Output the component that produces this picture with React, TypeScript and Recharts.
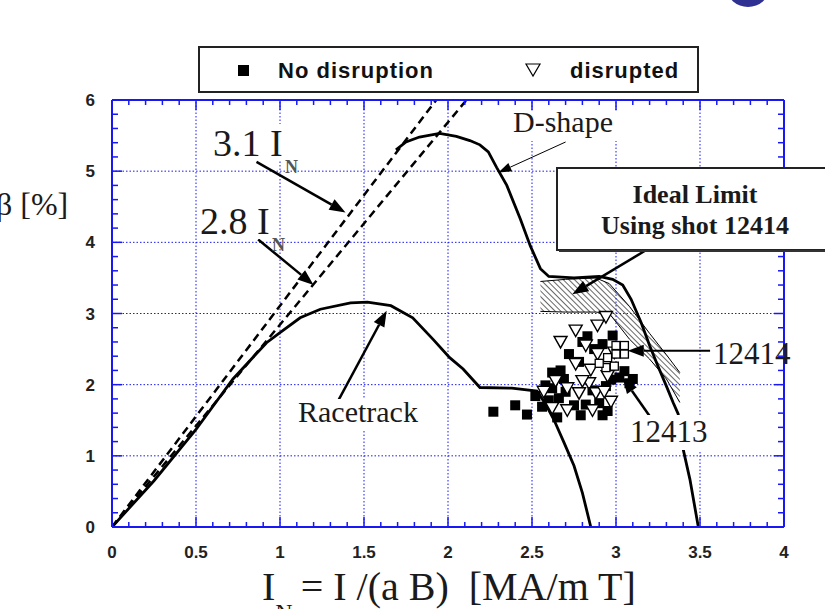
import React from 'react'
import { ComposedChart, XAxis, YAxis, Line, Area, Scatter, ReferenceLine } from 'recharts'

type Pt = { x: number; y: number }

// axis ticks
const xMajor = [0, 0.5, 1, 1.5, 2, 2.5, 3, 3.5, 4]
const xLabels = ['0', '0.5', '1', '1.5', '2', '2.5', '3', '3.5', '4']
const yMajor = [0, 1, 2, 3, 4, 5, 6]
const yLabels = ['0', '1', '2', '3', '4', '5', '6']

// curves
const racetrack: Pt[] = [
    { x: 0, y: 0 }, { x: 0.25, y: 0.65 }, { x: 0.5, y: 1.37 }, { x: 0.72, y: 2.08 }, { x: 0.92, y: 2.59 },
    { x: 1.0, y: 2.73 }, { x: 1.12, y: 2.94 }, { x: 1.24, y: 3.06 }, { x: 1.42, y: 3.15 }, { x: 1.52, y: 3.16 },
    { x: 1.66, y: 3.11 }, { x: 1.79, y: 2.94 }, { x: 1.91, y: 2.64 }, { x: 2.01, y: 2.38 }, { x: 2.09, y: 2.22 },
    { x: 2.19, y: 1.96 }, { x: 2.38, y: 1.95 }, { x: 2.53, y: 1.91 }, { x: 2.58, y: 1.73 }, { x: 2.63, y: 1.51 },
    { x: 2.69, y: 1.19 }, { x: 2.75, y: 0.86 }, { x: 2.8, y: 0.48 }, { x: 2.85, y: 0 },
]

const dShape: Pt[] = [
    { x: 1.69, y: 5.3 }, { x: 1.75, y: 5.41 }, { x: 1.83, y: 5.48 }, { x: 1.95, y: 5.53 }, { x: 2.05, y: 5.49 },
    { x: 2.13, y: 5.43 }, { x: 2.19, y: 5.37 }, { x: 2.24, y: 5.27 }, { x: 2.29, y: 5.05 }, { x: 2.35, y: 4.8 },
    { x: 2.43, y: 4.33 }, { x: 2.49, y: 3.95 }, { x: 2.55, y: 3.63 }, { x: 2.6, y: 3.52 }, { x: 2.75, y: 3.5 },
    { x: 2.9, y: 3.52 }, { x: 2.98, y: 3.48 }, { x: 3.04, y: 3.4 }, { x: 3.09, y: 3.2 }, { x: 3.15, y: 2.87 },
    { x: 3.2, y: 2.55 }, { x: 3.25, y: 2.26 }, { x: 3.3, y: 1.98 }, { x: 3.34, y: 1.75 }, { x: 3.37, y: 1.59 },
    { x: 3.4, y: 1.09 }, { x: 3.44, y: 0.67 }, { x: 3.49, y: 0 },
]

const limit31: Pt[] = [{ x: 0, y: 0 }, { x: 1.93, y: 6 }]
const limit28: Pt[] = [{ x: 0, y: 0 }, { x: 2.11, y: 6 }]

// hatched "ideal limit" band, [low, high]
const idealBand = [
    { x: 2.55, band: [3.03, 3.45] }, { x: 2.7, band: [3.02, 3.48] }, { x: 2.88, band: [3.02, 3.5] },
    { x: 2.96, band: [3.0, 3.42] }, { x: 3.08, band: [2.64, 3.1] }, { x: 3.2, band: [2.36, 2.72] },
    { x: 3.3, band: [2.08, 2.42] }, { x: 3.38, band: [1.75, 2.17] },
]

// shots
const noDisruption: Pt[] = [
    { x: 2.27, y: 1.62 }, { x: 2.4, y: 1.71 }, { x: 2.47, y: 1.58 }, { x: 2.52, y: 1.84 }, { x: 2.58, y: 1.99 },
    { x: 2.56, y: 1.69 }, { x: 2.62, y: 2.17 }, { x: 2.67, y: 2.2 }, { x: 2.66, y: 1.81 }, { x: 2.65, y: 1.54 },
    { x: 2.72, y: 2.43 }, { x: 2.75, y: 1.71 }, { x: 2.79, y: 1.57 }, { x: 2.83, y: 2.68 }, { x: 2.92, y: 2.57 },
    { x: 2.98, y: 2.69 }, { x: 2.9, y: 1.74 }, { x: 2.92, y: 1.57 }, { x: 2.94, y: 1.98 }, { x: 2.97, y: 2.07 },
    { x: 3.05, y: 2.19 }, { x: 3.08, y: 2.02 }, { x: 3.02, y: 2.1 }, { x: 2.78, y: 2.32 }, { x: 2.86, y: 1.92 },
    { x: 2.6, y: 1.78 }, { x: 2.7, y: 1.9 }, { x: 2.69, y: 2.08 }, { x: 2.82, y: 1.72 }, { x: 2.87, y: 2.5 },
    { x: 2.8, y: 2.6 }, { x: 2.62, y: 1.95 }, { x: 2.95, y: 1.63 }, { x: 3.1, y: 2.08 },
]

const disrupted: Pt[] = [
    { x: 2.94, y: 2.95 }, { x: 2.89, y: 2.83 }, { x: 2.76, y: 2.76 }, { x: 2.67, y: 2.6 }, { x: 2.82, y: 2.55 },
    { x: 2.89, y: 2.43 }, { x: 2.76, y: 2.29 }, { x: 2.85, y: 2.21 }, { x: 2.64, y: 2.05 }, { x: 2.57, y: 1.9 },
    { x: 2.71, y: 1.95 }, { x: 2.84, y: 2.02 }, { x: 2.88, y: 1.88 }, { x: 2.78, y: 1.88 }, { x: 2.62, y: 1.67 },
    { x: 2.71, y: 1.64 }, { x: 2.86, y: 1.64 }, { x: 2.97, y: 1.76 }, { x: 2.99, y: 2.45 }, { x: 2.95, y: 2.12 },
    { x: 2.8, y: 2.05 }, { x: 2.93, y: 1.9 },
]

const shot12414: Pt[] = [
    { x: 3.0, y: 2.55 }, { x: 3.05, y: 2.55 }, { x: 3.0, y: 2.43 }, { x: 3.05, y: 2.43 },
    { x: 2.95, y: 2.38 }, { x: 2.94, y: 2.24 }, { x: 2.99, y: 2.26 }, { x: 2.9, y: 2.3 },
]

// annotation arrows (tail -> head)
const arrows = [
    { from: { x: 0.86, y: 5.13 }, to: { x: 1.39, y: 4.42 }, w: 2.5 },
    { from: { x: 0.87, y: 4.04 }, to: { x: 1.2, y: 3.4 }, w: 2.5 },
    { from: { x: 2.7, y: 5.41 }, to: { x: 2.3, y: 4.98 }, w: 1 },
    { from: { x: 3.2, y: 3.92 }, to: { x: 2.74, y: 3.27 }, w: 2.5 },
    { from: { x: 1.345, y: 1.77 }, to: { x: 1.635, y: 3.04 }, w: 2.5 },
    { from: { x: 3.56, y: 2.475 }, to: { x: 3.07, y: 2.475 }, w: 2 },
    { from: { x: 3.2, y: 1.56 }, to: { x: 3.04, y: 2.1 }, w: 2.5 },
]

const BLUE = '#1818f4'
const SANS = '"Liberation Sans", Arial, sans-serif'
const SERIF = '"Liberation Serif", "Times New Roman", serif'

const subdivide = (major: number[], n: number) => {
    const out: number[] = []
    for (let i = 0; i < major.length - 1; i++)
        for (let k = 0; k < n; k++) out.push(+(major[i] + ((major[i + 1] - major[i]) * k) / n).toFixed(4))
    out.push(major[major.length - 1])
    return out
}
const xTicks = subdivide(xMajor, 5)
const yTicks = subdivide(yMajor, 5)

const tickText = { fontFamily: SANS, fontWeight: 700, fontSize: 17, fill: '#222' }

const BottomTick = (p: any) => {
    const i = xMajor.indexOf(p.payload.value)
    return (
        <g>
            <line x1={p.x} x2={p.x} y1={p.y} y2={p.y - (i >= 0 ? 10 : 5)} stroke={BLUE} strokeWidth={1.5} />
            {i >= 0 && <text x={p.x} y={p.y + 31} textAnchor="middle" {...tickText}>{xLabels[i]}</text>}
        </g>
    )
}
const TopTick = (p: any) => {
    const major = xMajor.indexOf(p.payload.value) >= 0
    return <line x1={p.x} x2={p.x} y1={p.y} y2={p.y + (major ? 10 : 5)} stroke={BLUE} strokeWidth={1.5} />
}
const LeftTick = (p: any) => {
    const i = yMajor.indexOf(p.payload.value)
    return (
        <g>
            <line x1={p.x} x2={p.x + (i >= 0 ? 10 : 6)} y1={p.y} y2={p.y} stroke={BLUE} strokeWidth={1.5} />
            {i >= 0 && <text x={p.x - 17} y={p.y + 6} textAnchor="end" {...tickText}>{yLabels[i]}</text>}
        </g>
    )
}
const RightTick = (p: any) => {
    const major = yMajor.indexOf(p.payload.value) >= 0
    return <line x1={p.x} x2={p.x - (major ? 10 : 6)} y1={p.y} y2={p.y} stroke={BLUE} strokeWidth={1.5} />
}

const Square = (p: any) => <rect x={p.cx - 5} y={p.cy - 5} width={10} height={10} fill="#000" />
const Triangle = (p: any) => (
    <polygon
        points={`${p.cx - 6.5},${p.cy - 5.5} ${p.cx + 6.5},${p.cy - 5.5} ${p.cx},${p.cy + 6}`}
        fill="#fff" stroke="#000" strokeWidth={1.4}
    />
)
const OpenSquare = (p: any) => (
    <rect x={p.cx - 4} y={p.cy - 4} width={8} height={8} fill="#fff" stroke="#000" strokeWidth={1.3} />
)

const Arrow = (p: any) => {
    const { x1, y1, x2, y2 } = p
    if ([x1, y1, x2, y2].some((v) => typeof v !== 'number' || isNaN(v))) return <g />
    const w = Number(p.strokeWidth) || 2
    const len = Math.hypot(x2 - x1, y2 - y1) || 1
    const ux = (x2 - x1) / len
    const uy = (y2 - y1) / len
    const hl = w < 1.5 ? 13 : 16
    const hw = w < 1.5 ? 4.5 : 6
    const bx = x2 - ux * hl
    const by = y2 - uy * hl
    return (
        <g>
            <line x1={x1} y1={y1} x2={bx} y2={by} stroke="#000" strokeWidth={w} />
            <polygon
                points={`${x2},${y2} ${bx - uy * hw},${by + ux * hw} ${bx + uy * hw},${by - ux * hw}`}
                fill="#000"
            />
        </g>
    )
}

const serifText = { fontFamily: SERIF, fill: '#1a1a1a' }
const gridX = xMajor.slice(1, -1)
const gridY = yMajor.slice(1, -1)

const App = () => {
    return (
        <div style={{ position: 'fixed', left: 0, top: 0, width: 825, height: 609, background: '#fff' }}>
            <ComposedChart width={825} height={609} margin={{ top: 99, right: 40, bottom: 0, left: 0 }}>
                <defs>
                    <pattern id="hatch" patternUnits="userSpaceOnUse" width={4} height={4} patternTransform="rotate(-45)">
                        <rect width={4} height={4} fill="#fff" />
                        <line x1={0} y1={0} x2={0} y2={4} stroke="#000" strokeWidth={1.2} />
                    </pattern>
                </defs>
                <XAxis
                    dataKey="x" type="number" domain={[0, 4]} allowDataOverflow ticks={xTicks} interval={0}
                    height={82} tickSize={0} tickMargin={0} tick={BottomTick}
                    axisLine={{ stroke: BLUE, strokeWidth: 2 }}
                />
                <XAxis
                    xAxisId="top" orientation="top" dataKey="x" type="number" domain={[0, 4]} allowDataOverflow
                    ticks={xTicks} interval={0} height={1} tickSize={0} tickMargin={0} tick={TopTick}
                    axisLine={{ stroke: BLUE, strokeWidth: 2 }}
                />
                <YAxis
                    dataKey="y" type="number" domain={[0, 6]} allowDataOverflow ticks={yTicks} interval={0}
                    width={112} tickSize={0} tickMargin={0} tick={LeftTick}
                    axisLine={{ stroke: BLUE, strokeWidth: 2 }}
                />
                <YAxis
                    yAxisId="right" orientation="right" dataKey="y" type="number" domain={[0, 6]} allowDataOverflow
                    ticks={yTicks} interval={0} width={1} tickSize={0} tickMargin={0} tick={RightTick}
                    axisLine={{ stroke: BLUE, strokeWidth: 2 }}
                />

                {gridX.map((v) => (
                    <ReferenceLine key={'gx' + v} x={v} stroke={BLUE} strokeDasharray="1.5 2" strokeWidth={1} />
                ))}
                {gridY.map((v) => (
                    <ReferenceLine key={'gy' + v} y={v} stroke={BLUE} strokeDasharray="1.5 2" strokeWidth={1} />
                ))}

                {/* invisible copy so the top / right frame axes have a series */}
                <Line data={limit31} xAxisId="top" yAxisId="right" dataKey="y" stroke="none" legendType="none"
                    dot={false} activeDot={false} isAnimationActive={false} />

                <Area
                    data={idealBand} dataKey="band" type="linear" fill="url(#hatch)" fillOpacity={1}
                    stroke="#000" strokeWidth={1} dot={false} activeDot={false} isAnimationActive={false}
                />
                <Line data={limit31} dataKey="y" type="linear" stroke="#000" strokeWidth={2.5} strokeDasharray="8 5"
                    dot={false} activeDot={false} isAnimationActive={false} />
                <Line data={limit28} dataKey="y" type="linear" stroke="#000" strokeWidth={2.5} strokeDasharray="8 5"
                    dot={false} activeDot={false} isAnimationActive={false} />
                <Line data={racetrack} dataKey="y" type="linear" stroke="#000" strokeWidth={2.8}
                    dot={false} activeDot={false} isAnimationActive={false} />
                <Line data={dShape} dataKey="y" type="linear" stroke="#000" strokeWidth={2.8}
                    dot={false} activeDot={false} isAnimationActive={false} />

                <Scatter data={noDisruption} shape={Square} isAnimationActive={false} />
                <Scatter data={disrupted} shape={Triangle} isAnimationActive={false} />
                <Scatter data={shot12414} shape={OpenSquare} isAnimationActive={false} />

                {arrows.map((a, i) => (
                    <ReferenceLine key={'ar' + i} segment={[a.from, a.to]} strokeWidth={a.w} shape={Arrow} />
                ))}
            </ComposedChart>

            <svg width={825} height={609} style={{ position: 'absolute', left: 0, top: 0, pointerEvents: 'none' }}>
                <ellipse cx={748} cy={-12} rx={21} ry={19} fill="#2e3192" />

                {/* legend */}
                <rect x={199} y={47} width={499} height={45} fill="#fff" stroke="#222" strokeWidth={2} />
                <rect x={238} y={65} width={11} height={11} fill="#000" />
                <text x={278} y={78} fontFamily={SANS} fontWeight={700} fontSize={22} letterSpacing={1} fill="#111">No disruption</text>
                <polygon points="526,64 540,64 533,76" fill="#fff" stroke="#000" strokeWidth={1.2} />
                <text x={570} y={78} fontFamily={SANS} fontWeight={700} fontSize={22} letterSpacing={1} fill="#111">disrupted</text>

                {/* y title, cut at the left edge as in the source */}
                <text x={-4} y={215} fontSize={32} {...serifText}>β [%]</text>

                {/* x title */}
                <text x={262} y={600} fontSize={40} style={{ whiteSpace: 'pre' }} {...serifText}>
                    I<tspan fontSize={24} dy={20}>N</tspan><tspan dy={-20} dx={8}>= I /(a B)  [MA/m T]</tspan>
                </text>

                {/* curve labels */}
                <rect x={211} y={124} width={78} height={36} fill="#fff" />
                <text x={213} y={156} fontSize={38} {...serifText}>3.1 I</text>
                <text x={285} y={173} fontSize={18} fontWeight={700} fontFamily={SERIF} fill="#555">N</text>
                <rect x={198} y={203} width={78} height={36} fill="#fff" />
                <text x={200} y={234} fontSize={38} {...serifText}>2.8 I</text>
                <text x={272} y={251} fontSize={18} fontWeight={700} fontFamily={SERIF} fill="#555">N</text>

                <rect x={511} y={111} width={108} height={30} fill="#fff" />
                <text x={513} y={132} fontSize={30} {...serifText}>D-shape</text>

                <rect x={296} y={399} width={130} height={30} fill="#fff" />
                <text x={298} y={422} fontSize={30} {...serifText}>Racetrack</text>

                <text x={713} y={364} fontSize={31} {...serifText}>12414</text>
                <rect x={628} y={415} width={80} height={35} fill="#fff" />
                <text x={630} y={442} fontSize={31} {...serifText}>12413</text>

                {/* ideal limit box */}
                <rect x={557} y={168} width={300} height={82} fill="#fff" stroke="#222" strokeWidth={2} />
                <line x1={559} y1={251} x2={825} y2={251} stroke="#333" strokeWidth={2} />
                <text x={695} y={203} textAnchor="middle" fontSize={26} fontWeight={700} {...serifText}>Ideal Limit</text>
                <text x={695} y={234} textAnchor="middle" fontSize={26} fontWeight={700} {...serifText}>Using shot 12414</text>
            </svg>
        </div>
    )
}

export default App
